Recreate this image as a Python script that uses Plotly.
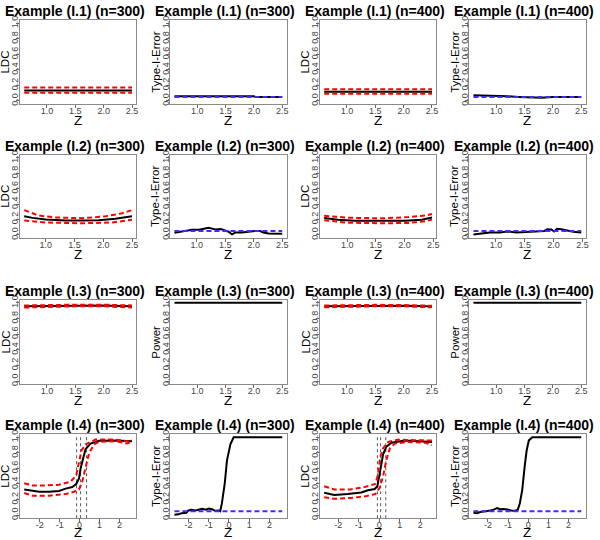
import plotly.graph_objects as go

# ---------------- data ----------------
# Example I.1
z_I1 = [0.6, 1.0, 1.5, 2.0, 2.5]
ldc_I1_300 = [0.134, 0.134, 0.134, 0.134, 0.134]
lo_I1_300 = [0.105, 0.105, 0.105, 0.105, 0.105]
hi_I1_300 = [0.172, 0.172, 0.172, 0.172, 0.172]
z_t1_300 = [0.6, 1.0, 1.5, 2.0, 2.02, 2.5]
t1_300 = [0.06, 0.06, 0.06, 0.06, 0.05, 0.05]
ldc_I1_400 = [0.118, 0.118, 0.118, 0.118, 0.118]
lo_I1_400 = [0.09, 0.09, 0.09, 0.09, 0.09]
hi_I1_400 = [0.148, 0.148, 0.148, 0.148, 0.148]
z_t1_400 = [0.6, 0.8, 1.0, 1.2, 1.4, 1.6, 1.8, 2.0, 2.2, 2.5]
t1_400 = [0.07, 0.068, 0.06, 0.058, 0.05, 0.045, 0.04, 0.05, 0.05, 0.05]

# Example I.2
z_I2_300 = [0.625, 0.77, 1.0, 1.35, 1.63, 1.92, 2.21, 2.5]
ldc_I2_300 = [0.24, 0.22, 0.20, 0.186, 0.186, 0.19, 0.21, 0.24]
z_I2_300_hi = [0.625, 0.88, 1.17, 1.63, 2.04, 2.33, 2.5]
hi_I2_300 = [0.32, 0.25, 0.225, 0.216, 0.24, 0.28, 0.32]
z_I2_300_lo = [0.625, 1.0, 1.63, 2.16, 2.5]
lo_I2_300 = [0.186, 0.16, 0.15, 0.16, 0.195]
z_t2_300 = [0.61, 0.7, 0.81, 0.92, 1.04, 1.13, 1.21, 1.27, 1.33, 1.42, 1.5,
            1.56, 1.62, 1.68, 1.79, 1.88, 2.02, 2.11, 2.17, 2.26, 2.5]
t2_300 = [0.026, 0.04, 0.056, 0.065, 0.065, 0.074, 0.09, 0.08, 0.07, 0.074, 0.05,
          0.04, 0.005, 0.03, 0.03, 0.04, 0.05, 0.048, 0.03, 0.017, 0.013]
z_I2_400 = [0.6, 0.84, 1.13, 1.6, 2.01, 2.3, 2.48]
ldc_I2_400 = [0.218, 0.197, 0.184, 0.18, 0.184, 0.197, 0.226]
z_I2_400_hi = [0.6, 1.01, 1.6, 2.07, 2.36, 2.48]
hi_I2_400 = [0.248, 0.222, 0.214, 0.23, 0.25, 0.27]
z_I2_400_lo = [0.6, 1.01, 1.6, 2.07, 2.36, 2.48]
lo_I2_400 = [0.188, 0.158, 0.15, 0.154, 0.175, 0.197]
z_t2_400 = [0.61, 0.72, 0.89, 1.07, 1.19, 1.36, 1.54, 1.69, 1.84, 1.89, 1.96,
            2.01, 2.06, 2.13, 2.22, 2.34, 2.48]
t2_400 = [0.004, 0.017, 0.03, 0.03, 0.043, 0.03, 0.038, 0.043, 0.05, 0.073, 0.07,
          0.043, 0.077, 0.073, 0.056, 0.04, 0.03]

# Example I.3
z_I3 = [0.6, 1.0, 1.5, 2.0, 2.3, 2.5]
ldc_I3_300 = [0.955, 0.96, 0.965, 0.965, 0.96, 0.955]
lo_I3_300 = [0.94, 0.948, 0.955, 0.955, 0.948, 0.94]
hi_I3_300 = [0.966, 0.972, 0.976, 0.976, 0.972, 0.966]
ldc_I3_400 = [0.955, 0.96, 0.965, 0.963, 0.958, 0.952]
lo_I3_400 = [0.943, 0.95, 0.956, 0.955, 0.949, 0.942]
hi_I3_400 = [0.965, 0.97, 0.974, 0.972, 0.968, 0.962]
z_p3 = [0.6, 1.0, 1.5, 2.0, 2.5]
pow_I3_300 = [1.0, 1.0, 1.0, 1.0, 1.0]
pow_I3_400 = [1.0, 1.0, 1.0, 1.0, 1.0]

# Example I.4
z_I4_300 = [-2.78, -2.37, -2.03, -1.53, -1.03, -0.70, -0.37, -0.17, -0.03, 0.05,
            0.17, 0.30, 0.55, 0.97, 1.80, 2.63]
ldc_I4_300 = [0.33, 0.31, 0.30, 0.30, 0.31, 0.34, 0.36, 0.40, 0.47, 0.60,
              0.74, 0.85, 0.92, 0.955, 0.96, 0.95]
z_I4_300_hi = [-2.78, -2.37, -1.87, -1.03, -0.45, -0.17, -0.03, 0.10, 0.30, 0.80,
               1.80, 2.20, 2.35, 2.63]
hi_I4_300 = [0.41, 0.38, 0.38, 0.39, 0.43, 0.51, 0.68, 0.83, 0.91, 0.97,
             0.97, 0.96, 0.945, 0.965]
z_I4_300_lo = [-2.78, -2.37, -1.53, -0.70, -0.28, -0.03, 0.13, 0.30, 0.47, 0.72,
               0.97, 1.80, 2.38, 2.63]
lo_I4_300 = [0.285, 0.25, 0.25, 0.27, 0.30, 0.33, 0.43, 0.60, 0.79, 0.91,
             0.94, 0.95, 0.92, 0.945]
cuts_I4_300 = [-0.15, 0.05, 0.35]
z_t4_300 = [-2.69, -2.5, -2.33, -2.1, -2.0, -1.85, -1.65, -1.5, -1.32, -1.15, -1.0,
            -0.83, -0.68, -0.5, -0.43, -0.35, -0.21, -0.10, 0.07, 0.23, 2.63]
t4_300 = [0.005, 0.01, 0.025, 0.03, 0.06, 0.07, 0.06, 0.07, 0.08, 0.07, 0.085,
          0.075, 0.055, 0.06, 0.05, 0.15, 0.40, 0.70, 0.91, 1.0, 1.0]
z_I4_400 = [-2.69, -2.2, -1.54, -0.88, -0.55, -0.22, -0.09, 0.0, 0.07, 0.19,
            0.35, 0.60, 1.26, 2.58]
ldc_I4_400 = [0.286, 0.26, 0.27, 0.29, 0.32, 0.335, 0.37, 0.50, 0.65, 0.78,
              0.88, 0.93, 0.96, 0.94]
z_I4_400_hi = [-2.69, -2.2, -1.4, -0.72, -0.19, -0.06, 0.04, 0.19, 0.44, 0.93,
               2.25, 2.58]
hi_I4_400 = [0.37, 0.33, 0.33, 0.36, 0.40, 0.52, 0.74, 0.86, 0.94, 0.97,
             0.96, 0.96]
z_I4_400_lo = [-2.69, -2.2, -1.4, -0.72, -0.19, 0.02, 0.19, 0.35, 0.52, 0.77,
               1.43, 2.25, 2.58]
lo_I4_400 = [0.23, 0.21, 0.22, 0.24, 0.27, 0.35, 0.50, 0.71, 0.86, 0.92,
             0.94, 0.93, 0.90]
cuts_I4_400 = [-0.09, 0.07, 0.32]
z_t4_400 = [-2.72, -2.55, -2.38, -2.2, -2.05, -1.88, -1.72, -1.55, -1.4, -1.22,
            -0.97, -0.80, -0.63, -0.52, -0.42, -0.30, -0.18, -0.08, 0.03, 0.20, 2.63]
t4_400 = [0.03, 0.025, 0.04, 0.045, 0.055, 0.06, 0.07, 0.09, 0.075, 0.08,
          0.07, 0.055, 0.06, 0.07, 0.15, 0.32, 0.62, 0.83, 0.96, 1.0, 1.0]

alpha_level = 0.05

titles = ["Example (I.1) (n=300)", "Example (I.1) (n=300)", "Example (I.1) (n=400)", "Example (I.1) (n=400)",
          "Example (I.2) (n=300)", "Example (I.2) (n=300)", "Example (I.2) (n=400)", "Example (I.2) (n=400)",
          "Example (I.3) (n=300)", "Example (I.3) (n=300)", "Example (I.3) (n=400)", "Example (I.3) (n=400)",
          "Example (I.4) (n=300)", "Example (I.4) (n=300)", "Example (I.4) (n=400)", "Example (I.4) (n=400)"]
ylabels = ["LDC", "Type-I-Error", "LDC", "Type-I-Error",
           "LDC", "Type-I-Error", "LDC", "Type-I-Error",
           "LDC", "Power", "LDC", "Power",
           "LDC", "Type-I-Error", "LDC", "Type-I-Error"]
xlabel = "Z"
ytick_vals = [0.0, 0.2, 0.4, 0.6, 0.8, 1.0]
ytick_text = ["0.0", "0.2", "0.4", "0.6", "0.8", "1.0"]
xtick_vals_a = [1.0, 1.5, 2.0, 2.5]
xtick_text_a = ["1.0", "1.5", "2.0", "2.5"]
xtick_vals_b = [-2, -1, 0, 1, 2]
xtick_text_b = ["-2", "-1", "0", "1", "2"]

panels = [
    ("ldc", (z_I1, ldc_I1_300), (z_I1, lo_I1_300), (z_I1, hi_I1_300), None),
    ("err", (z_t1_300, t1_300)),
    ("ldc", (z_I1, ldc_I1_400), (z_I1, lo_I1_400), (z_I1, hi_I1_400), None),
    ("err", (z_t1_400, t1_400)),
    ("ldc", (z_I2_300, ldc_I2_300), (z_I2_300_lo, lo_I2_300), (z_I2_300_hi, hi_I2_300), None),
    ("err", (z_t2_300, t2_300)),
    ("ldc", (z_I2_400, ldc_I2_400), (z_I2_400_lo, lo_I2_400), (z_I2_400_hi, hi_I2_400), None),
    ("err", (z_t2_400, t2_400)),
    ("ldc", (z_I3, ldc_I3_300), (z_I3, lo_I3_300), (z_I3, hi_I3_300), None),
    ("pow", (z_p3, pow_I3_300)),
    ("ldc", (z_I3, ldc_I3_400), (z_I3, lo_I3_400), (z_I3, hi_I3_400), None),
    ("pow", (z_p3, pow_I3_400)),
    ("ldc", (z_I4_300, ldc_I4_300), (z_I4_300_lo, lo_I4_300), (z_I4_300_hi, hi_I4_300), cuts_I4_300),
    ("err", (z_t4_300, t4_300)),
    ("ldc", (z_I4_400, ldc_I4_400), (z_I4_400_lo, lo_I4_400), (z_I4_400_hi, hi_I4_400), cuts_I4_400),
    ("err", (z_t4_400, t4_400)),
]

# ---------------- layout geometry ----------------
W, H = 600, 540
col_left = [20, 171, 321.5, 471.5]
box_w = 117
row_top = [16.5, 152.5, 299, 435]
row_bot = [101, 236.5, 384.5, 520]
zlab_off = [16.5, 16.5, 16.5, 14]

FONT = "Liberation Sans, Arial, Helvetica, sans-serif"
BLUE = "#3d2bff"

fig = go.Figure()
annotations = []
shapes = []

def r_range(lo, hi):
    pad = 0.04 * (hi - lo)
    return [lo - pad, hi + pad]

for i, p in enumerate(panels):
    r, c = divmod(i, 4)
    k = i + 1
    xa = "x" if k == 1 else f"x{k}"
    ya = "y" if k == 1 else f"y{k}"
    xkey = "xaxis" if k == 1 else f"xaxis{k}"
    ykey = "yaxis" if k == 1 else f"yaxis{k}"
    kind = p[0]
    if kind == "ldc":
        (zb, vb), (zl, vl), (zh, vh), cuts = p[1], p[2], p[3], p[4]
        if cuts:
            for cv in cuts:
                shapes.append(dict(type="line", xref=xa, yref=f"{ya} domain", x0=cv, x1=cv,
                                   y0=0, y1=1, layer="below",
                                   line=dict(color="#555", width=1, dash="dot")))
        fig.add_trace(go.Scatter(x=zb, y=vb, mode="lines", xaxis=xa, yaxis=ya,
                                 line=dict(color="black", width=2), showlegend=False))
        for zz, vv in ((zl, vl), (zh, vh)):
            fig.add_trace(go.Scatter(x=zz, y=vv, mode="lines", xaxis=xa, yaxis=ya,
                                     line=dict(color="#ff0000", width=2, dash="5px,3px"),
                                     showlegend=False))
        allz = zb + zl + zh
    else:
        zb, vb = p[1]
        fig.add_trace(go.Scatter(x=zb, y=vb, mode="lines", xaxis=xa, yaxis=ya,
                                 line=dict(color="black", width=2), showlegend=False))
        allz = list(zb)
        if kind == "err":
            fig.add_trace(go.Scatter(x=[min(zb), max(zb)], y=[alpha_level, alpha_level],
                                     mode="lines", xaxis=xa, yaxis=ya,
                                     line=dict(color=BLUE, width=2, dash="5px,3px"),
                                     showlegend=False))
    xr = r_range(min(allz), max(allz))
    if r < 3:
        tv, tt = xtick_vals_a, xtick_text_a
    else:
        tv, tt = xtick_vals_b, xtick_text_b
    left = col_left[c]
    x0, x1 = left / W, (left + box_w) / W
    y0, y1 = 1 - row_bot[r] / H, 1 - row_top[r] / H
    common = dict(showgrid=False, zeroline=False, showline=True, mirror=True,
                  linecolor="#8a8a8a", linewidth=1, ticks="outside", ticklen=3,
                  tickcolor="#666", tickfont=dict(family=FONT, size=9, color="#444"))
    fig.update_layout({
        xkey: dict(domain=[x0, x1], range=xr, anchor=ya, tickvals=tv, ticktext=tt,
                   ticklabelstandoff=-5, **common),
        ykey: dict(domain=[y0, y1], range=[-0.04, 1.04], anchor=xa, tickvals=ytick_vals,
                   ticktext=ytick_text, tickangle=-90, ticklabelstandoff=-6, **common),
    })
    cx = (left + box_w / 2) / W
    annotations.append(dict(text=f"<b>{titles[i]}</b>", x=cx - 3 / W, y=1 - (row_top[r] - 9) / H,
                            xref="paper", yref="paper", showarrow=False,
                            font=dict(family=FONT, size=14, color="black"),
                            xanchor="center", yanchor="middle"))
    annotations.append(dict(text=xlabel, x=cx, y=1 - (row_bot[r] + zlab_off[r]) / H,
                            xref="paper", yref="paper", showarrow=False,
                            font=dict(family=FONT, size=13.5, color="black"),
                            xanchor="center", yanchor="middle"))
    annotations.append(dict(text=ylabels[i], x=(left - 14.5) / W,
                            y=1 - (row_top[r] + row_bot[r]) / 2 / H,
                            xref="paper", yref="paper", showarrow=False, textangle=-90,
                            font=dict(family=FONT, size=11.5, color="black"),
                            xanchor="center", yanchor="middle"))

fig.update_layout(width=W, height=H, margin=dict(l=0, r=0, t=0, b=0),
                  plot_bgcolor="white", paper_bgcolor="white",
                  annotations=annotations, shapes=shapes, showlegend=False)
fig.write_html("out.html", config={"displayModeBar": False},
               post_script="document.body.style.margin='0px';document.body.style.overflow='hidden';")
